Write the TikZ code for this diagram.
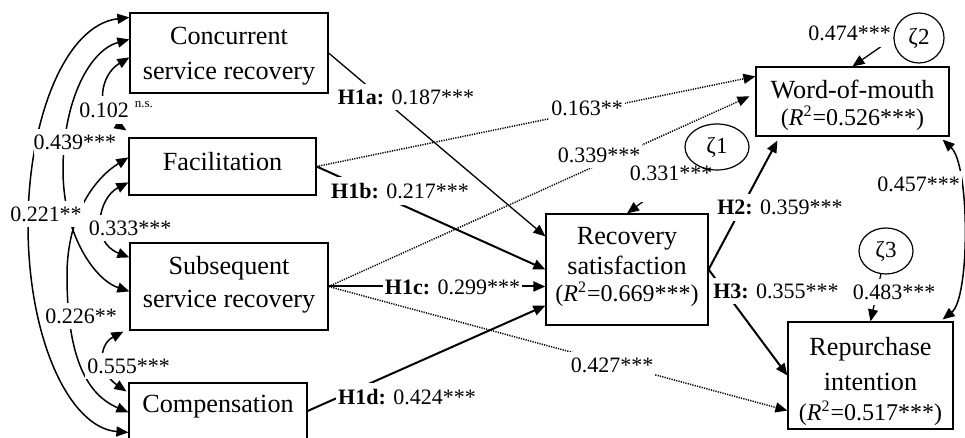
\documentclass[tikz,border=0pt]{standalone}
\usepackage{fontspec}
\setmainfont{Liberation Serif}
\usetikzlibrary{arrows.meta,calc,shapes.geometric,backgrounds}

% explained-variance line under an endogenous construct
\newcommand\rsqline[1]{{\fontsize{12}{13}\selectfont(\textit{R}\textsuperscript{2}=#1)}}

\tikzset{
  ah/.tip={Triangle[length=6pt,width=5pt]},
  box/.style={draw, line width=0.6pt, inner sep=0pt},
  boxtext/.style={align=center, inner sep=0pt},
  coef/.style={fill=white, inner xsep=1pt, inner ysep=3pt,
               font=\fontsize{11}{13}\selectfont},
  err/.style={draw, ellipse, line width=0.6pt, inner sep=0pt,
              font=\fontsize{11.5}{13}\selectfont},
  corr/.style={ah-ah, line width=0.75pt},
  effect/.style={-ah, line width=1pt},
  weak/.style={-ah, line width=0.65pt},
  direct/.style={-ah, line width=0.75pt, dash pattern=on 0.6pt off 0.6pt},
}

\begin{document}
\begin{tikzpicture}[x=0.5pt, y=-0.5pt]
\useasboundingbox (0,0) rectangle (965,438);

% ---------- constructs ----------
\node[box, minimum width=99pt,   minimum height=40pt]   (conc)  at (229,53)      {};
\node[box, minimum width=93.5pt, minimum height=28.5pt] (facil) at (222.5,166.5) {};
\node[box, minimum width=99pt,   minimum height=43.5pt] (subs)  at (229,286.5)   {};
\node[box, minimum width=89pt,   minimum height=28pt]   (comp)  at (218,411)     {};
\node[box, minimum width=81pt,   minimum height=55.5pt] (rs)    at (627,269.5)   {};
\node[box, minimum width=96.5pt, minimum height=34.5pt] (wom)   at (852.5,101.5) {};
\node[box, minimum width=82.5pt, minimum height=53.5pt] (ri)    at (870.5,375.5) {};

\node[boxtext, font=\fontsize{13.1}{17.5}\selectfont] (conc-t)  at (229,56.5)  {Concurrent\\service recovery};
\node[boxtext, font=\fontsize{13.1}{16}\selectfont]   (facil-t) at (222.5,162) {Facilitation};
\node[boxtext, font=\fontsize{13.1}{16.5}\selectfont] (subs-t)  at (229,284.5) {Subsequent\\service recovery};
\node[boxtext, font=\fontsize{13.1}{16}\selectfont]   (comp-t)  at (218,407)   {Compensation};
\node[boxtext, font=\fontsize{13.1}{13.5}\selectfont] (rs-t)    at (627,267)   {Recovery\\[1.5pt]satisfaction\\\rsqline{0.669***}};
\node[boxtext, font=\fontsize{13.1}{13.5}\selectfont] (wom-t)   at (852.5,105) {Word-of-mouth\\\rsqline{0.526***}};
\node[boxtext, font=\fontsize{13.1}{15}\selectfont]   (ri-t)    at (870.5,381) {Repurchase\\[2.5pt]intention\\\rsqline{0.517***}};

% ---------- disturbances ----------
\node[err, minimum width=32pt, minimum height=23pt] (z1) at (717,147) {ζ1};
\node[err, minimum width=25pt, minimum height=25pt] (z2) at (919,38)  {ζ2};
\node[err, minimum width=27pt, minimum height=23pt] (z3) at (886,251) {ζ3};

\begin{scope}[on background layer]
  % correlations among the recovery dimensions
  \draw[corr] ($(conc.north west)+(0,5)$) .. controls (65,25) and (28,120) .. (28,225)
              .. controls (28,340) and (70,428) .. ($(comp.north west)+(0,50)$);
  \draw[corr] ($(conc.north west)+(0,27)$) .. controls (90,50) and (63,100) .. (63,170)
              .. controls (63,235) and (95,280) .. ($(subs.north west)+(0,49)$);
  \draw[corr] ($(conc.north west)+(0,45)$) .. controls (100,75) and (95,110) .. ($(facil.north west)+(-2,-7)$);
  \draw[corr] ($(facil.north west)+(0,45)$) .. controls (98,198) and (90,242) .. ($(subs.north west)+(0,15)$);
  \draw[corr] ($(facil.north west)+(0,20)$) .. controls (95,178) and (67,215) .. (67,275)
              .. controls (67,360) and (88,395) .. ($(comp.north west)+(0,30)$);
  \draw[corr] ($(subs.south west)+(-6,1)$) .. controls (98,345) and (98,372) .. ($(comp.north west)+(-2,9)$);

  % hypothesised effects on recovery satisfaction
  \draw[weak]   (conc.east)  -- ($(rs.north west)+(0,23)$);
  \draw[effect] (facil.east) -- (rs.west);
  \draw[effect] (subs.east)  -- (subs.east -| rs.west);
  \draw[effect] (comp.east)  -- ($(rs.south west)+(0,-20)$);

  % direct effects on the outcomes
  \draw[direct] (facil.east) -- ($(wom.north west)+(0,10)$);
  \draw[direct] (subs.east)  -- ($(wom.north west)+(-6,30)$);
  \draw[direct] (subs.east)  -- ($(ri.south west)+(0,-19)$);

  % effects of recovery satisfaction
  \draw[effect] (rs.east) -- ($(wom.south west)+(22,4)$);
  \draw[effect] (rs.east) -- (ri.west);

  % disturbance paths
  \draw[weak] (z1) -- (rs.north);
  \draw[weak] (z2.west) -- (wom.north);
  \draw[weak] (z3) -- (ri.north);

  % correlated outcomes
  \draw[corr] ($(wom.south east)+(-7,3)$) .. controls (970,165) and (970,298) .. ($(ri.north east)+(-11,-2)$);

  % ---------- coefficients ----------
  \node[coef] (k-conc-comp) at (46,214) {0.221**};
  \node[coef, inner xsep=0pt] (k-conc-subs) at (75,142) {0.439***};
  \node[coef, anchor=west] (k-conc-facil) at (77,110) {0.102\hspace{3pt}\raisebox{5pt}{\fontsize{6.5}{7}\selectfont n.s.}};
  \node[coef] (k-facil-subs) at (130,228) {0.333***};
  \node[coef] (k-facil-comp) at (81,316) {0.226**};
  \node[coef] (k-subs-comp)  at (128.5,366) {0.555***};

  \node[coef] (k-h1a) at (406,97)    {\textbf{H1a:} 0.187***};
  \node[coef] (k-h1b) at (400,191)   {\textbf{H1b:} 0.217***};
  \node[coef] (k-h1c) at (452.5,287) {\textbf{H1c:} 0.299***};
  \node[coef] (k-h1d) at (407,397)   {\textbf{H1d:} 0.424***};

  \node[coef] (k-fw) at (587,108) {0.163**};
  \node[coef] (k-sw) at (599,155) {0.339***};
  \node[coef] (k-sr) at (612,365) {0.427***};

  \node[coef, text depth=8pt] (k-z1) at (671,181) {0.331***};
  \node[coef] (k-z2) at (849.5,33.5) {0.474***};
  \node[coef] (k-z3) at (894,292)    {0.483***};

  \node[coef] (k-h2) at (780,207.5) {\textbf{H2:} 0.359***};
  \node[coef] (k-h3) at (776,291)   {\textbf{H3:} 0.355***};
  \node[coef] (k-wr) at (918.5,184) {0.457***};
\end{scope}
\end{tikzpicture}
\end{document}
